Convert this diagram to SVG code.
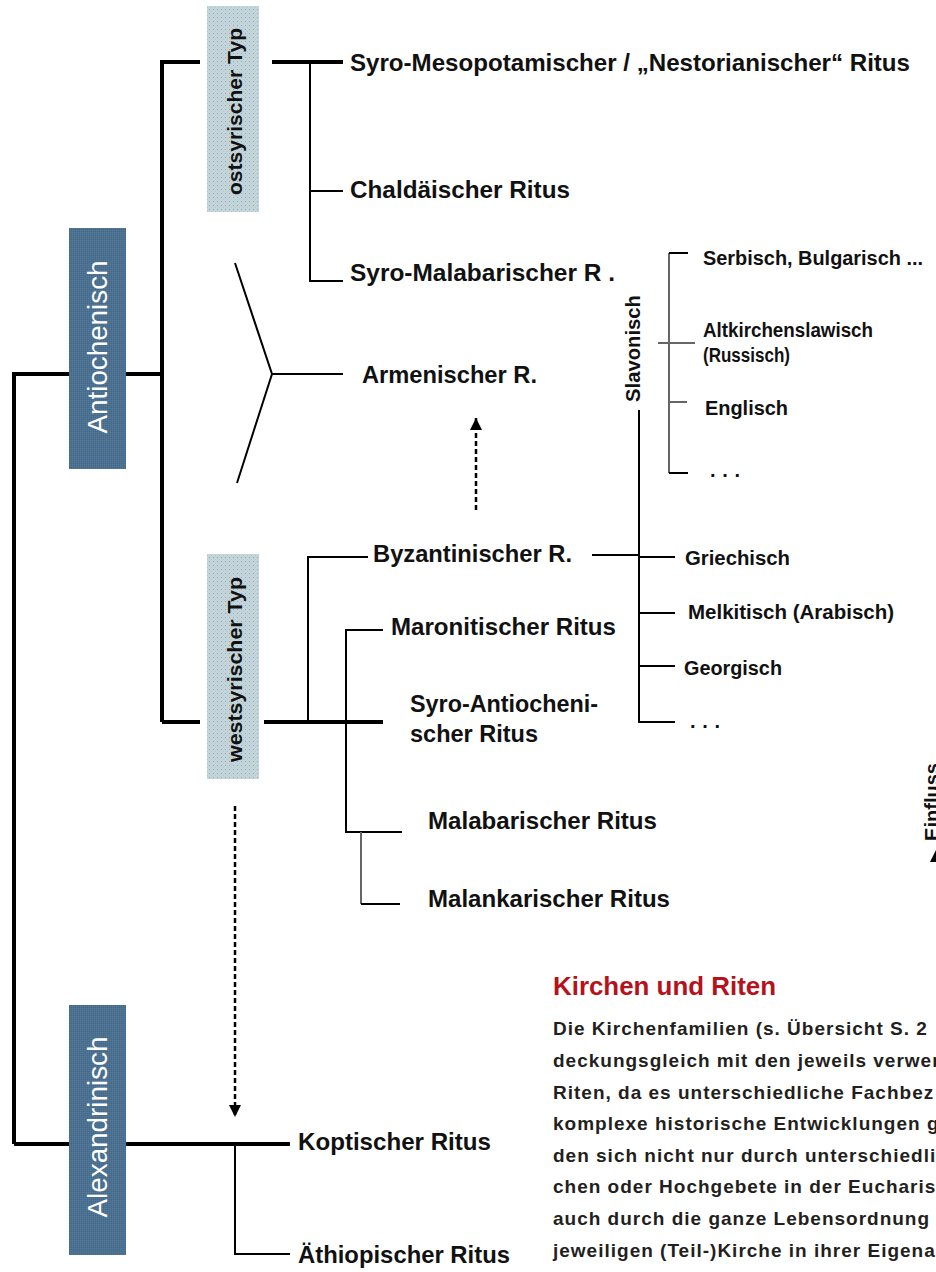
<svg xmlns="http://www.w3.org/2000/svg" width="936" height="1272" viewBox="0 0 936 1272">
<defs>
<pattern id="lightTex" width="4" height="4" patternUnits="userSpaceOnUse">
<rect width="4" height="4" fill="#c2d5d8"/>
<rect x="1" y="1" width="1" height="1" fill="#a49ccb"/>
<rect x="3" y="3" width="1" height="1" fill="#b2c9cc"/>
</pattern>
<pattern id="darkTex" width="2" height="2" patternUnits="userSpaceOnUse">
<rect width="2" height="2" fill="#4b7090"/>
<rect width="1" height="1" fill="#56799a"/>
<rect x="1" y="1" width="1" height="1" fill="#44688a"/>
</pattern>
<marker id="arrow" viewBox="0 0 10 10" refX="10" refY="5" markerWidth="13" markerHeight="12" markerUnits="userSpaceOnUse" orient="auto">
<path d="M0,0 L10,5 L0,10 Z" fill="#000"/>
</marker>
<style>
.thick{stroke:#000;stroke-width:4;fill:none}
.thin{stroke:#000;stroke-width:2;fill:none}
.gray{stroke:#666;stroke-width:2;fill:none}
.dash{stroke:#000;stroke-width:2.5;fill:none;stroke-dasharray:5 3}
.lbl{font-family:"Liberation Sans",Arial,sans-serif;font-weight:bold;font-size:24px;fill:#111}
.sm{font-family:"Liberation Sans",Arial,sans-serif;font-weight:bold;font-size:20px;fill:#111}
.typ{font-family:"Liberation Sans",Arial,sans-serif;font-weight:bold;font-size:21px;fill:#111}
.fam{font-family:"Liberation Sans",Arial,sans-serif;font-size:28px;fill:#fff}
.title{font-family:"Liberation Sans",Arial,sans-serif;font-weight:bold;font-size:25px;fill:#b5121b}
.body{font-family:"Liberation Sans",Arial,sans-serif;font-weight:bold;font-size:19px;letter-spacing:1px;fill:#231f20}
</style>
</defs>
<rect width="936" height="1272" fill="#fff"/>

<g id="connectors">
<path class="thick" d="M14,1144 V374 H162 M162,722 V62 H200 M162,722 H200 M272,62 H343 M264,722 H383 M14,1144 H290"/>
<path class="thin" d="M310,62 V281 H343 M310,191 H343"/>
<path class="thin" d="M235,263 L272,374 L237,483 M272,374 H343"/>
<path class="thin" d="M368,557 H308 V722"/>
<path class="thin" d="M383,630 H346 V832 H402"/>
<path class="gray" d="M361,832 V904"/>
<path class="thin" d="M361,904 H400"/>
<path class="thin" d="M592,555 H640 M639,410 V722 H675 M639,557 H675 M639,613 H675 M639,666 H675"/>
<path class="gray" d="M669,253 V473"/>
<path class="thin" d="M669,253 H688 M669,473 H688"/>
<path class="gray" d="M658,343 H695 M669,402 H687"/>
<path class="dash" d="M476,510 V418" marker-end="url(#arrow)"/>
<path class="dash" d="M235,806 V1117" marker-end="url(#arrow)"/>
<path class="thin" d="M235,1144 V1254 H290"/>
</g>

<g id="antiochenisch">
<rect x="69" y="228" width="57" height="241" fill="url(#darkTex)"/>
<text class="fam" transform="translate(97,347) rotate(-90)" y="10" text-anchor="middle" textLength="173" lengthAdjust="spacingAndGlyphs">Antiochenisch</text>
</g>
<g id="alexandrinisch">
<rect x="69" y="1005" width="57" height="250" fill="url(#darkTex)"/>
<text class="fam" transform="translate(97,1127) rotate(-90)" y="10" text-anchor="middle" textLength="181" lengthAdjust="spacingAndGlyphs">Alexandrinisch</text>
</g>
<g id="ostsyrisch">
<rect x="207" y="6" width="52" height="206" fill="url(#lightTex)"/>
<text class="typ" transform="translate(233,111.5) rotate(-90)" y="9" text-anchor="middle" textLength="167" lengthAdjust="spacingAndGlyphs">ostsyrischer Typ</text>
</g>
<g id="westsyrisch">
<rect x="207" y="554" width="52" height="225" fill="url(#lightTex)"/>
<text class="typ" transform="translate(233,669.5) rotate(-90)" y="9" text-anchor="middle" textLength="185" lengthAdjust="spacingAndGlyphs">westsyrischer Typ</text>
</g>

<g id="n-syro-meso"><text class="lbl" x="350" y="71" textLength="560" lengthAdjust="spacingAndGlyphs">Syro-Mesopotamischer / „Nestorianischer“ Ritus</text></g>
<g id="n-chald"><text class="lbl" x="350" y="198" textLength="220" lengthAdjust="spacingAndGlyphs">Chaldäischer Ritus</text></g>
<g id="n-syro-mal"><text class="lbl" x="350" y="281" textLength="265" lengthAdjust="spacingAndGlyphs">Syro-Malabarischer R .</text></g>
<g id="n-armen"><text class="lbl" x="362" y="383" textLength="175" lengthAdjust="spacingAndGlyphs">Armenischer R.</text></g>
<g id="n-byz"><text class="lbl" x="373" y="562" textLength="199" lengthAdjust="spacingAndGlyphs">Byzantinischer R.</text></g>
<g id="n-maron"><text class="lbl" x="391" y="635" textLength="225" lengthAdjust="spacingAndGlyphs">Maronitischer Ritus</text></g>
<g id="n-syro-ant"><text class="lbl" x="410" y="712" textLength="188" lengthAdjust="spacingAndGlyphs">Syro-Antiocheni-</text><text class="lbl" x="410" y="742" textLength="128" lengthAdjust="spacingAndGlyphs">scher Ritus</text></g>
<g id="n-malab"><text class="lbl" x="428" y="829" textLength="229" lengthAdjust="spacingAndGlyphs">Malabarischer Ritus</text></g>
<g id="n-malank"><text class="lbl" x="428" y="907" textLength="242" lengthAdjust="spacingAndGlyphs">Malankarischer Ritus</text></g>
<g id="n-kopt"><text class="lbl" x="298" y="1150" textLength="193" lengthAdjust="spacingAndGlyphs">Koptischer Ritus</text></g>
<g id="n-aeth"><text class="lbl" x="298" y="1263" textLength="212" lengthAdjust="spacingAndGlyphs">Äthiopischer Ritus</text></g>

<g id="slavonisch"><text class="sm" transform="translate(640,348.5) rotate(-90)" text-anchor="middle" font-size="18" textLength="107" lengthAdjust="spacingAndGlyphs">Slavonisch</text></g>
<g id="n-serb"><text class="sm" x="703" y="265" textLength="220" lengthAdjust="spacingAndGlyphs">Serbisch, Bulgarisch ...</text></g>
<g id="n-altk"><text class="sm" x="703" y="337" textLength="170" lengthAdjust="spacingAndGlyphs">Altkirchenslawisch</text><text class="sm" x="703" y="362" textLength="87" lengthAdjust="spacingAndGlyphs">(Russisch)</text></g>
<g id="n-engl"><text class="sm" x="705" y="415" textLength="83" lengthAdjust="spacingAndGlyphs">Englisch</text></g>
<g id="n-dots1"><text class="sm" x="710" y="477" textLength="30" lengthAdjust="spacing">. . .</text></g>
<g id="n-griech"><text class="sm" x="685" y="565" textLength="105" lengthAdjust="spacingAndGlyphs">Griechisch</text></g>
<g id="n-melk"><text class="sm" x="688" y="619" textLength="206" lengthAdjust="spacingAndGlyphs">Melkitisch (Arabisch)</text></g>
<g id="n-georg"><text class="sm" x="684" y="675" textLength="98" lengthAdjust="spacingAndGlyphs">Georgisch</text></g>
<g id="n-dots2"><text class="sm" x="690" y="728" textLength="30" lengthAdjust="spacing">. . .</text></g>

<g id="einfluss">
<text class="sm" transform="translate(939,802) rotate(-90)" text-anchor="middle" font-size="16">Einfluss</text>
<path d="M930,862 L936,850 L942,862 Z" fill="#000"/>
</g>

<g id="textblock">
<text class="title" x="553" y="995" textLength="223" lengthAdjust="spacingAndGlyphs">Kirchen und Riten</text>
<text class="body" x="553" y="1035">Die Kirchenfamilien (s. Übersicht S. 2</text>
<text class="body" x="553" y="1067">deckungsgleich mit den jeweils verwer</text>
<text class="body" x="553" y="1099">Riten, da es unterschiedliche Fachbez</text>
<text class="body" x="553" y="1130">komplexe historische Entwicklungen g</text>
<text class="body" x="553" y="1162">den sich nicht nur durch unterschiedli</text>
<text class="body" x="553" y="1193">chen oder Hochgebete in der Eucharis</text>
<text class="body" x="553" y="1225">auch durch die ganze Lebensordnung</text>
<text class="body" x="553" y="1257">jeweiligen (Teil-)Kirche in ihrer Eigena</text>
</g>
</svg>
